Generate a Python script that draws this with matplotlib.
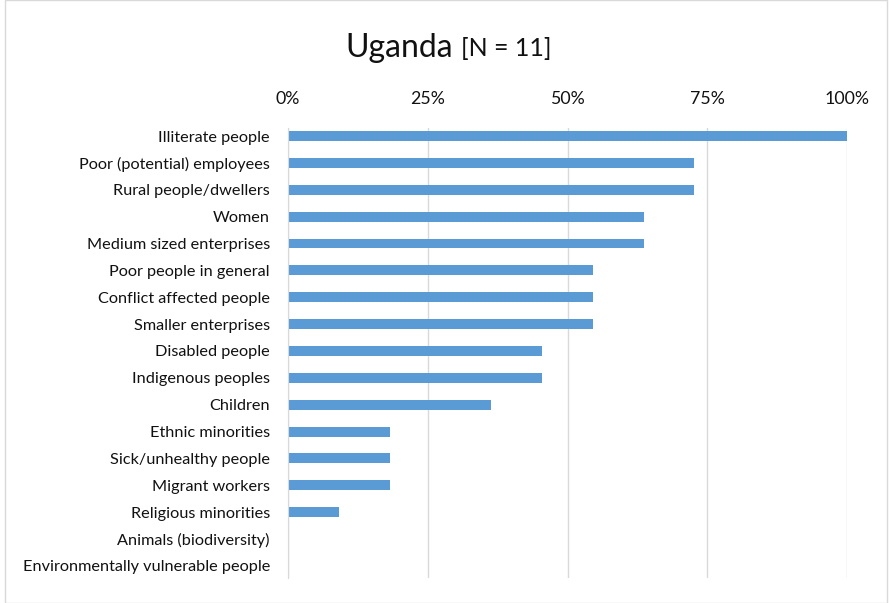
import matplotlib
matplotlib.use('Agg')
import matplotlib.pyplot as plt
from matplotlib.patches import Rectangle
from matplotlib.ticker import FuncFormatter

# data (share of 11 respondents, in percent)
groups = ["Illiterate people", "Poor (potential) employees", "Rural people/dwellers",
          "Women", "Medium sized enterprises", "Poor people in general",
          "Conflict affected people", "Smaller enterprises", "Disabled people",
          "Indigenous peoples", "Children", "Ethnic minorities",
          "Sick/unhealthy people", "Migrant workers", "Religious minorities",
          "Animals (biodiversity)", "Environmentally vulnerable people"]
shares = [100.0, 72.7, 72.7, 63.6, 63.6, 54.5, 54.5, 54.5, 45.5, 45.5, 36.4,
          18.2, 18.2, 18.2, 9.1, 0.0, 0.0]
ticks = [0, 25, 50, 75, 100]

plt.rcParams['font.family'] = ['Lato', 'DejaVu Sans']
txt = '#111111'

fig = plt.figure(figsize=(8.9, 6.03), dpi=100)
ax = fig.add_axes([288 / 890, 1 - 578 / 603, 559 / 890, 450 / 603])

ypos = list(range(len(groups)))
ax.barh(ypos, shares, height=0.37, color='#5B9BD5', zorder=3)
ax.set_ylim(len(groups) - 0.55, -0.3)
ax.set_xlim(0, 100)
ax.set_yticks(ypos)
ax.set_yticklabels(groups, fontsize=11.7, color=txt)
ax.set_xticks(ticks)
ax.xaxis.set_major_formatter(FuncFormatter(lambda v, p: f"{int(v)}%"))
ax.xaxis.tick_top()
ax.tick_params(axis='x', labelsize=12.8, colors=txt, length=0, pad=15)
ax.tick_params(axis='y', length=0, pad=13)
ax.grid(axis='x', color='#D9D9D9', linewidth=1, zorder=0)
for s in ['top', 'right', 'bottom']:
    ax.spines[s].set_visible(False)
ax.spines['left'].set_color('#D9D9D9')
ax.spines['left'].set_zorder(4)

fig.text(453 / 890, 1 - 48 / 603, "Uganda", fontsize=23, ha='right', va='center', color=txt)
fig.text(461 / 890, 1 - 48 / 603, "[N = 11]", fontsize=18, ha='left', va='center', color=txt)

fig.patches.append(Rectangle((5 / 890, 0), 882 / 890, 1, transform=fig.transFigure,
                             fill=False, edgecolor='#D9D9D9', linewidth=1))

fig.savefig("out.png", dpi=100)
